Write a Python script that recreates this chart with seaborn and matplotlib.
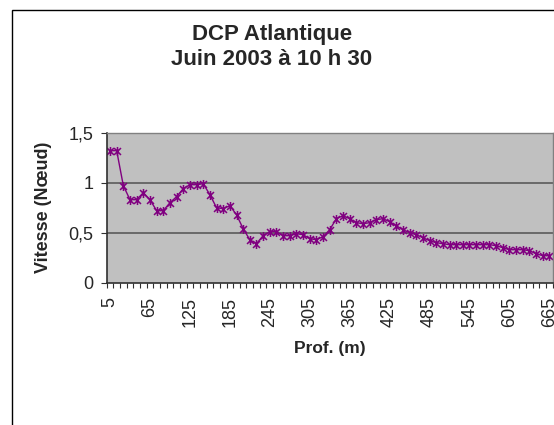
import numpy as np
import matplotlib
matplotlib.use("Agg")
import matplotlib.pyplot as plt
import seaborn as sns
from matplotlib.path import Path
from matplotlib.patches import Rectangle

# depth categories (m) and current speed (knots)
depths = list(range(5, 666, 10))
vitesse = [1.32, 1.32, 0.97, 0.83, 0.83, 0.90, 0.83, 0.72, 0.72, 0.80,
           0.86, 0.94, 0.98, 0.98, 0.99, 0.88, 0.75, 0.74, 0.77, 0.68,
           0.54, 0.43, 0.39, 0.47, 0.51, 0.51, 0.47, 0.47, 0.49, 0.48,
           0.44, 0.43, 0.46, 0.53, 0.64, 0.67, 0.64, 0.60, 0.59, 0.60,
           0.63, 0.64, 0.61, 0.57, 0.53, 0.50, 0.48, 0.45, 0.42, 0.40,
           0.39, 0.38, 0.38, 0.38, 0.38, 0.38, 0.38, 0.38, 0.37, 0.35,
           0.33, 0.33, 0.33, 0.32, 0.29, 0.27, 0.27]
xtick_labels = ['5', '65', '125', '185', '245', '305', '365', '425',
                '485', '545', '605', '665']
ytick_labels = ['0', '0,5', '1', '1,5']

sns.set_style("white")
plt.rcParams['font.family'] = ['Liberation Sans', 'DejaVu Sans']

# excel-like star marker (x with a vertical bar)
star = Path([(-1, -1), (1, 1), (-1, 1), (1, -1), (0, -1.3), (0, 1.3)],
            [Path.MOVETO, Path.LINETO, Path.MOVETO, Path.LINETO,
             Path.MOVETO, Path.LINETO])

fig = plt.figure(figsize=(5.54, 4.25), dpi=100)
ax = fig.add_axes([106.7 / 554, 1 - 282.7 / 425, 446 / 554, 150 / 425])
ax.set_facecolor('#C0C0C0')

sns.lineplot(x=depths, y=vitesse, ax=ax, color='#800080', linewidth=1.0,
             marker=star, markersize=6.5, markeredgewidth=1.1,
             markeredgecolor='#800080', markerfacecolor='none')

ax.set_xlim(0, 670)
ax.set_ylim(0, 1.5)

# horizontal grid
for v in [0.5, 1.0, 1.5]:
    ax.axhline(v, color='#5a5a5a', linewidth=1.2, zorder=0)

ax.set_yticks([0, 0.5, 1.0, 1.5])
ax.set_yticklabels(ytick_labels)
ax.set_xticks([int(t) for t in xtick_labels])
ax.set_xticklabels(xtick_labels, rotation=90)
ax.set_xticks(np.arange(0, 671, 10), minor=True)

ax.tick_params(axis='x', which='major', length=0, pad=10, labelsize=13)
ax.tick_params(axis='x', which='minor', length=3.5, width=0.8,
               color='#303030', direction='out')
ax.tick_params(axis='y', which='major', length=4.5, width=0.8,
               color='#303030', direction='out', pad=5, labelsize=13,
               left=True)
ax.tick_params(axis='x', which='both', bottom=True)

for s in ['left', 'bottom']:
    ax.spines[s].set_color('#303030')
    ax.spines[s].set_linewidth(1.2)
for s in ['top', 'right']:
    ax.spines[s].set_color('#808080')
    ax.spines[s].set_linewidth(1.0)

ax.set_xlabel('Prof. (m)', fontsize=12.5, fontweight='bold', labelpad=10)
ax.set_ylabel('Vitesse (Nœud)', fontsize=13, fontweight='bold', labelpad=12)

fig.text(271.7 / 554, 1 - 47 / 425, 'DCP Atlantique\nJuin 2003 à 10 h 30',
         ha='center', va='center', fontsize=16, fontweight='bold',
         linespacing=1.25)

# chart area border (cropped on right and bottom)
fig.patches.append(Rectangle((12 / 554, -0.1), 1.2, 1.1 - 10 / 425,
                             transform=fig.transFigure, fill=False,
                             edgecolor='black', linewidth=1.0))

fig.savefig('out.png', dpi=100)
